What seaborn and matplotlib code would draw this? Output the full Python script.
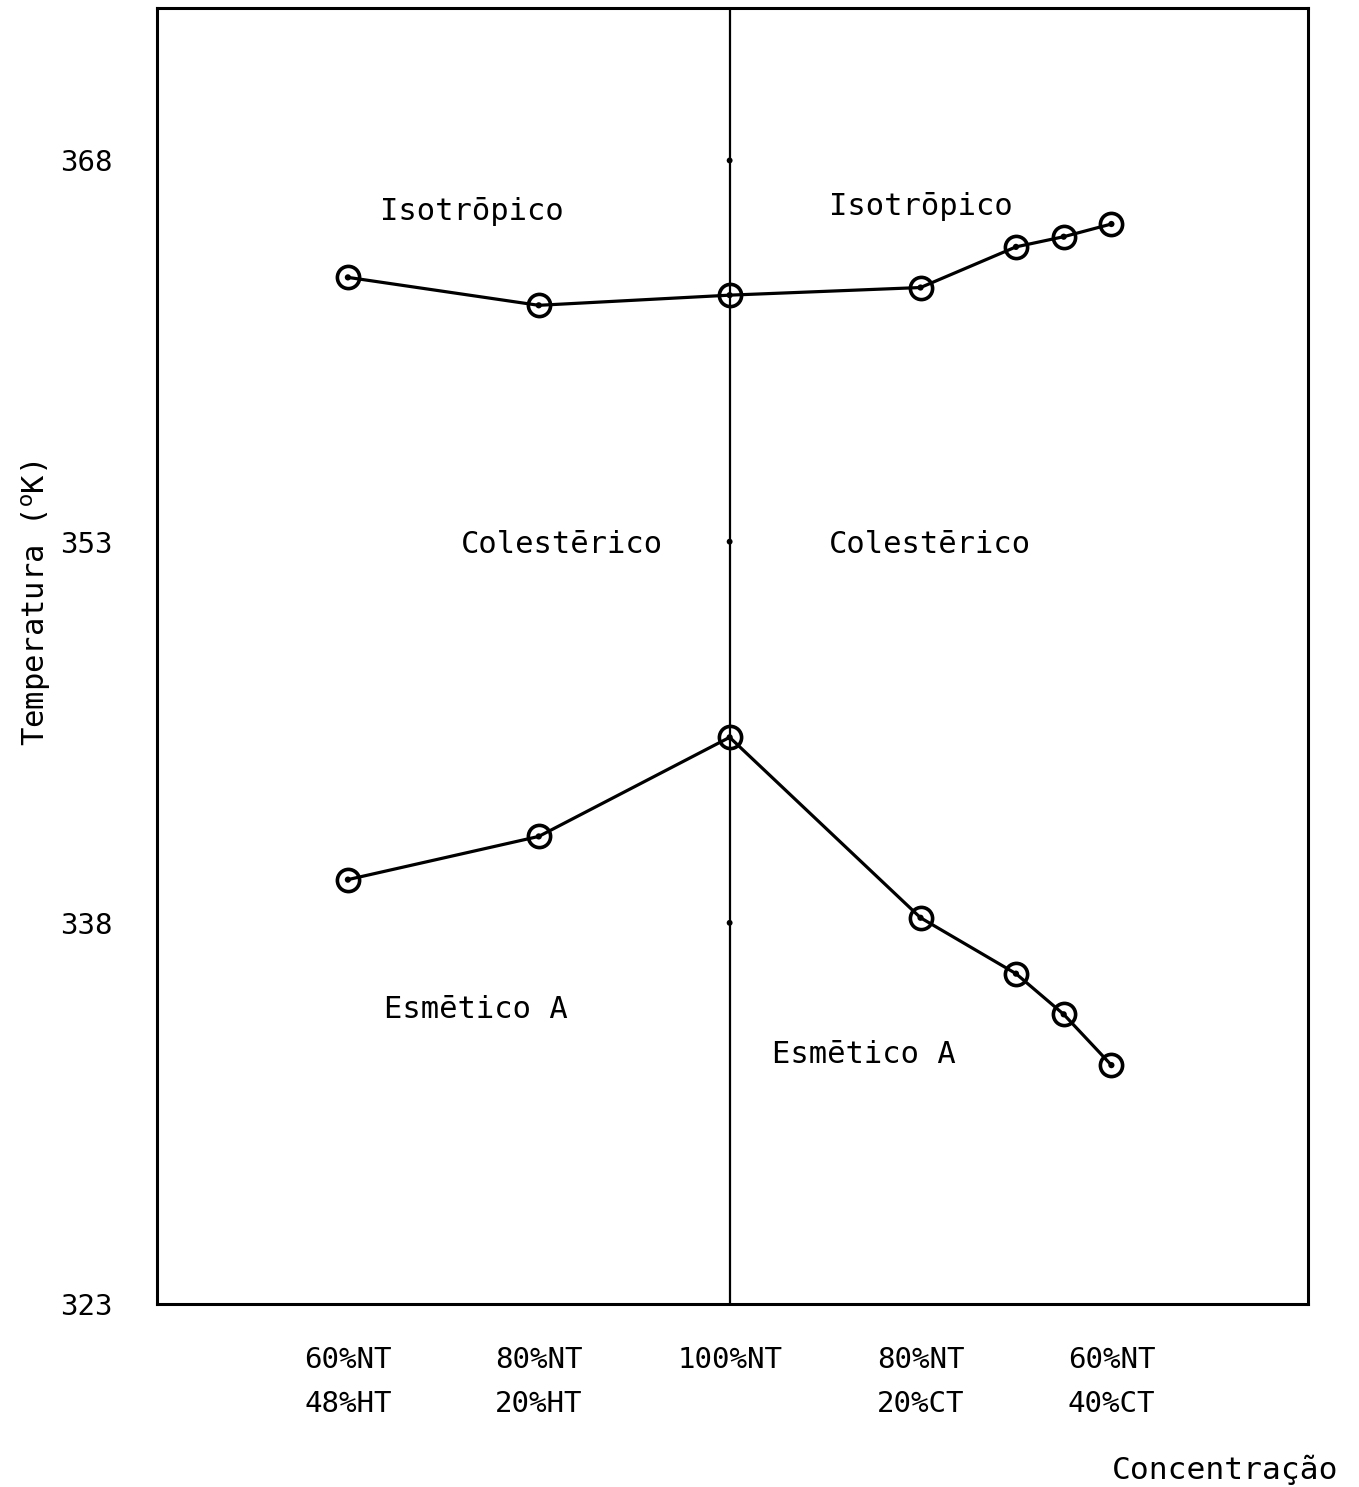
import matplotlib
matplotlib.use("Agg")
import matplotlib.pyplot as plt
import seaborn as sns
import pandas as pd

# ---- data ----
upper_x = [0, 1, 2, 3, 3.5, 3.75, 4]
upper_T = [363.4, 362.3, 362.7, 363.0, 364.6, 365.0, 365.5]
lower_x = [0, 1, 2, 3, 3.5, 3.75, 4]
lower_T = [339.7, 341.4, 345.3, 338.2, 336.0, 334.4, 332.4]
cat_pos = [0, 1, 2, 3, 4]
cat_labels = ["60%NT\n48%HT", "80%NT\n20%HT", "100%NT\n ", "80%NT\n20%CT", "60%NT\n40%CT"]
y_ticks = [323, 338, 353, 368]
center_x = 2

sns.set_theme(style="white")
plt.rcParams['font.family'] = ['DejaVu Sans Mono', 'DejaVu Sans']
plt.rcParams['mathtext.fontset'] = 'dejavusans'

fig = plt.figure(figsize=(13.59, 14.87), dpi=100)
ax = fig.add_axes([157/1359, 1 - 1304/1487, (1308-157)/1359, (1304-8)/1487])

df_u = pd.DataFrame({"x": upper_x, "T": upper_T})
df_l = pd.DataFrame({"x": lower_x, "T": lower_T})
for df in (df_u, df_l):
    sns.lineplot(data=df, x="x", y="T", ax=ax, sort=False, color="black", lw=2.3,
                 marker="o", markersize=16, markerfacecolor="none",
                 markeredgecolor="black", markeredgewidth=2.6, zorder=3)
    sns.scatterplot(data=df, x="x", y="T", ax=ax, color="black", s=20,
                    edgecolor="none", zorder=4)

ax.axvline(center_x, color="black", lw=1.6, zorder=2)
# tick dots on the central line
sns.scatterplot(x=[center_x]*3, y=y_ticks[1:], ax=ax, color="black", s=18,
                edgecolor="none", zorder=4, clip_on=False)

ax.set_xlim(-1, 5.03)
ax.set_ylim(323, 374)
ax.set_xticks(cat_pos)
ax.set_xticklabels(cat_labels, fontsize=21, linespacing=1.75)
ax.set_yticks(y_ticks)
ax.set_yticklabels([str(v) for v in y_ticks], fontsize=21)
ax.tick_params(axis="both", direction="in", length=4, width=2.5, color="black",
               labelcolor="black")
ax.tick_params(axis="x", pad=30)
ax.tick_params(axis="y", pad=32)
for s in ax.spines.values():
    s.set_color("black")
    s.set_linewidth(2.2)

ax.set_xlabel("")
ax.set_ylabel("")
fig.text(36/1359, 1 - 603/1487, r"Temperatura ($^{\mathrm{o}}$K)", rotation=90,
         fontsize=22, ha="center", va="center", color="black")
fig.text(1338/1359, 1 - 1470/1487, "Concentração", fontsize=22.5, ha="right",
         va="center", color="black")

txt = dict(fontsize=22, color="black", va="center", ha="left")
ax.text(0.17, 366.0, "Isotrōpico", **txt)
ax.text(2.52, 366.2, "Isotrōpico", **txt)
ax.text(0.59, 352.9, "Colestērico", **txt)
ax.text(2.52, 352.9, "Colestērico", **txt)
ax.text(0.19, 334.6, "Esmētico A", **txt)
ax.text(2.22, 332.8, "Esmētico A", **txt)

fig.savefig("out.png", dpi=100, facecolor="white")
